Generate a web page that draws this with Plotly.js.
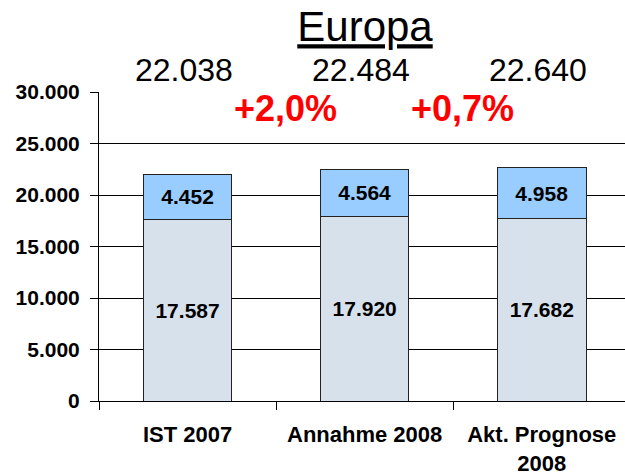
<!DOCTYPE html>
<html><head><meta charset="utf-8">
<script src="https://cdn.plot.ly/plotly-3.0.1.min.js"></script>
<style>body{margin:0;background:#fff}#c{width:625px;height:475px}</style>
</head><body><div id="c"></div>
<script>
const categories = ["IST 2007", "Annahme 2008", "Akt. Prognose<br>2008"];
const baseValues = [17587, 17920, 17682];
const topValues = [4452, 4564, 4958];
const totals = [22038, 22484, 22640];
const changes = ["+2,0%", "+0,7%"];
const yTicks = [0, 5000, 10000, 15000, 20000, 25000, 30000];

const FONT = "Liberation Sans, Arial, sans-serif";
const fmt = v => v.toString().replace(/\B(?=(\d{3})+(?!\d))/g, ".");

const lbl = {family: FONT, size: 21, color: "#000", weight: "bold"};
const traces = [
  {type: "bar", x: categories, y: baseValues, width: 0.5,
   marker: {color: "#D6E1EC", line: {color: "#222", width: 1}},
   text: baseValues.map(fmt), textposition: "inside", insidetextanchor: "middle",
   textfont: lbl, textangle: 0, hoverinfo: "skip"},
  {type: "bar", x: categories, y: topValues, width: 0.5,
   marker: {color: "#99CCFF", line: {color: "#222", width: 1}},
   text: topValues.map(fmt), textposition: "inside", insidetextanchor: "middle",
   textfont: lbl, textangle: 0, hoverinfo: "skip"}
];

const annotations = [];
totals.forEach((t, i) => annotations.push({
  x: i - 0.02, xref: "x", y: 1.071, yref: "paper", yanchor: "middle",
  text: fmt(t), showarrow: false,
  font: {family: FONT, size: 32, color: "#000"}
}));
const changePos = [0.555, 1.55];
changes.forEach((c, i) => annotations.push({
  x: changePos[i], xref: "x", y: 0.945, yref: "paper", yanchor: "middle",
  text: "<b>" + c + "</b>", showarrow: false,
  font: {family: FONT, size: 36, color: "#FF0000"}
}));

const layout = {
  width: 625, height: 475,
  barmode: "stack", showlegend: false,
  separators: ",.",
  paper_bgcolor: "#fff", plot_bgcolor: "#fff",
  margin: {l: 99, r: 0, t: 92, b: 74},
  title: {text: "<u>Europa</u>", x: 0.584, xanchor: "center", y: 0.975, yanchor: "top",
          font: {family: FONT, size: 42, color: "#000"}},
  xaxis: {type: "category", range: [-0.5, 2.47], showline: true, linecolor: "#000", linewidth: 1,
          ticks: "outside", tickson: "boundaries", ticklen: 8, tickcolor: "#000",
          ticklabelstandoff: 14,
          tickfont: {family: FONT, size: 22, color: "#000", weight: "bold"},
          showgrid: false, fixedrange: true},
  yaxis: {range: [0, 30000], tickvals: yTicks, tickformat: ",d",
          showline: true, linecolor: "#000", linewidth: 1,
          ticks: "outside", ticklen: 8, tickcolor: "#000",
          ticklabelstandoff: 6,
          showgrid: true, gridcolor: "#000", gridwidth: 1,
          zeroline: false,
          tickfont: {family: FONT, size: 21, color: "#000", weight: "bold"},
          fixedrange: true},
  annotations: annotations
};
Plotly.newPlot("c", traces, layout, {displayModeBar: false, staticPlot: true});
</script></body></html>
